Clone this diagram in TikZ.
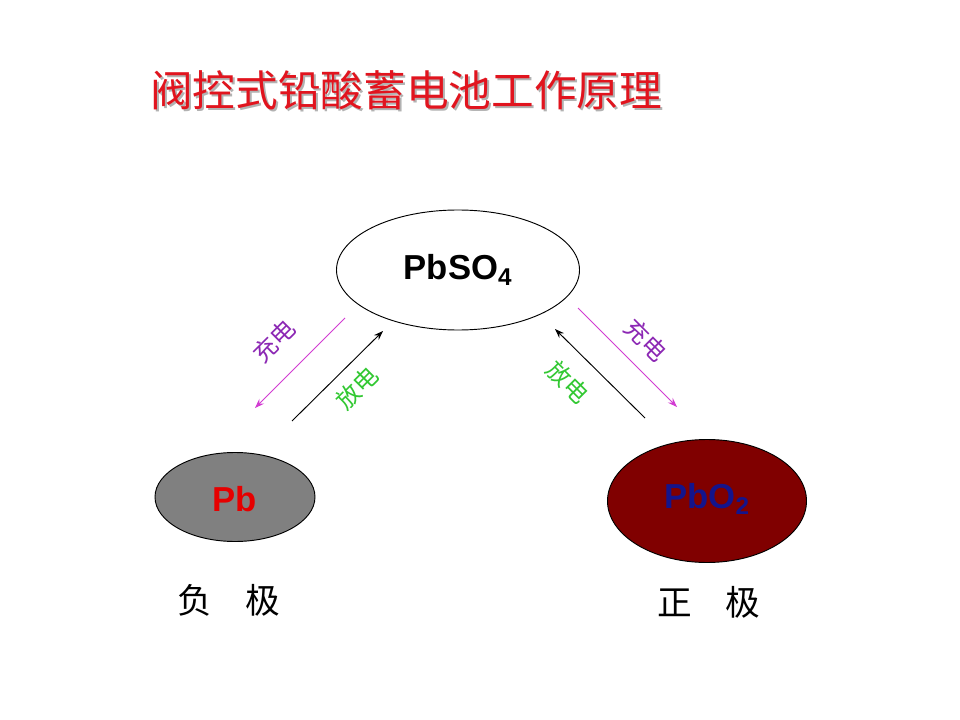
\documentclass[tikz,border=0pt]{standalone}
\usepackage{fontspec}
\setmainfont{Liberation Sans}
\newfontfamily\cjk{Noto Sans CJK SC}
\usetikzlibrary{arrows.meta,shapes.geometric}
\definecolor{titlered}{RGB}{225,20,30}
\definecolor{mag}{RGB}{210,60,210}
\definecolor{purp}{RGB}{140,40,180}
\definecolor{grn}{RGB}{50,200,50}
\definecolor{maroon}{RGB}{128,0,0}
\definecolor{navy}{RGB}{20,20,140}
\definecolor{pbred}{RGB}{230,0,0}
\tikzset{
  oval/.style={ellipse, draw=black, line width=0.7pt, inner sep=0pt},
  chem/.style={font=\fontsize{26}{28}\selectfont\bfseries},
  chg/.style={-{Stealth[length=7pt,width=5pt]}, draw=mag, line width=0.7pt},
  dis/.style={-{Stealth[length=7pt,width=5pt]}, draw=black, line width=0.7pt},
  lbl/.style={font=\cjk\fontsize{18}{19}\selectfont, inner sep=0pt},
  pole/.style={font=\cjk\fontsize{26}{28}\selectfont},
}
\begin{document}
\begin{tikzpicture}[x=0.75pt,y=-0.75pt]
\useasboundingbox[fill=white] (0,0) rectangle (960,720);
% title
\node[text=black!30, font=\cjk\fontsize{32}{34}\selectfont] at (408,92) {阀控式铅酸蓄电池工作原理};
\node (title) [text=titlered, font=\cjk\fontsize{32}{34}\selectfont] at (406,90) {阀控式铅酸蓄电池工作原理};
% ellipses
\node (top) [oval, fill=white, minimum width=243*0.75pt, minimum height=120*0.75pt] at (458,270) {};
\node[chem, text=black] at (458,270) {PbSO\textsubscript{4}};
\node (pb) [oval, fill=gray, minimum width=160*0.75pt, minimum height=89*0.75pt] at (235,497) {};
\node[chem, text=pbred] at (235,499) {Pb};
\node (pbo) [oval, fill=maroon, minimum width=199*0.75pt, minimum height=123*0.75pt] at (707,501) {};
\node[chem, text=navy] at (707,499) {PbO\textsubscript{2}};
% arrow endpoints
\coordinate (a1s) at (345,318); \coordinate (a1e) at (255,408);
\coordinate (a2s) at (292,421); \coordinate (a2e) at (383,331);
\coordinate (a3s) at (645,418); \coordinate (a3e) at (555,329);
\coordinate (a4s) at (578,308); \coordinate (a4e) at (677,407);
\draw[chg] (a1s) -- (a1e);
\draw[dis] (a2s) -- (a2e);
\draw[dis] (a3s) -- (a3e);
\draw[chg] (a4s) -- (a4e);
% labels
\node (l1) [lbl, text=purp, rotate=45] at (274,341) {充电};
\node (l2) [lbl, text=grn, rotate=45] at (357,388) {放电};
\node (l3) [lbl, text=grn, rotate=-45] at (568,382) {放电};
\node (l4) [lbl, text=purp, rotate=-45] at (646,340) {充电};
% poles
\node (neg) [pole] at (229,600) {负\hspace{24.75pt}极};
\node (pos) [pole] at (709,602) {正\hspace{24.75pt}极};
\end{tikzpicture}
\end{document}
